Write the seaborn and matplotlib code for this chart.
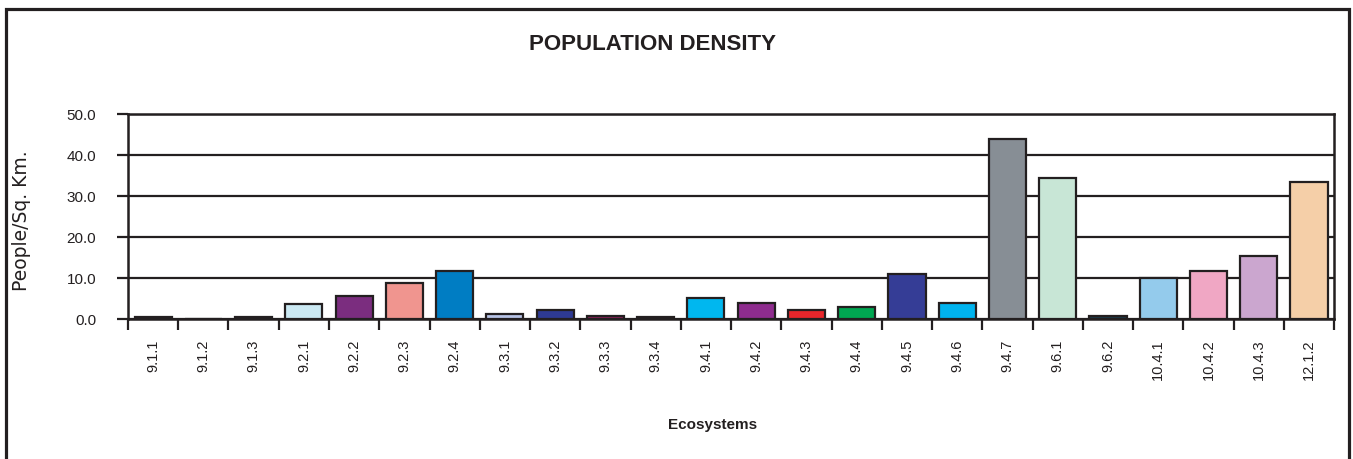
import matplotlib
matplotlib.use("Agg")
import matplotlib.pyplot as plt
from matplotlib.patches import Rectangle
from matplotlib.ticker import FixedLocator
import seaborn as sns
import pandas as pd
import numpy as np

# Ecosystem codes and their population densities
ecosystems = ["9.1.1", "9.1.2", "9.1.3", "9.2.1", "9.2.2", "9.2.3", "9.2.4",
              "9.3.1", "9.3.2", "9.3.3", "9.3.4", "9.4.1", "9.4.2", "9.4.3",
              "9.4.4", "9.4.5", "9.4.6", "9.4.7", "9.6.1", "9.6.2", "10.4.1",
              "10.4.2", "10.4.3", "12.1.2"]
density = [0.5, 0.0, 0.4, 3.6, 5.7, 8.9, 11.8,
           1.3, 2.2, 0.8, 0.4, 5.2, 4.0, 2.1,
           3.0, 11.0, 4.0, 43.9, 34.5, 0.8, 10.1,
           11.8, 15.4, 33.3]
bar_colors = ["#3a3a3a", "#3a3a3a", "#3a3a3a", "#CBE9F3", "#7B2D7F", "#F0958F", "#007DC3",
              "#B8C4E6", "#2E3A93", "#8B1F5A", "#3a3a3a", "#00B7EF", "#8E2C8E", "#E8262B",
              "#00A651", "#353D96", "#00B3EE", "#878E95", "#C8E6D6", "#1A3A4A", "#94CBEC",
              "#F0A7C4", "#CBA6CF", "#F5CFA8"]
y_ticks = [0, 10, 20, 30, 40, 50]

df = pd.DataFrame({"ecosystem": ecosystems, "density": density})

sns.set_theme(style="white")
plt.rcParams["font.family"] = ["Liberation Sans", "DejaVu Sans"]

fig = plt.figure(figsize=(13.53, 4.59), dpi=100)
ax = fig.add_axes([0.0946, 0.305, 0.8914, 0.4466])

sns.barplot(data=df, x="ecosystem", y="density", hue="ecosystem",
            palette=dict(zip(ecosystems, bar_colors)), legend=False,
            saturation=1, width=0.74, edgecolor="#231f20", linewidth=1.6,
            ax=ax, zorder=3)

ax.set_xlim(-0.5, len(ecosystems) - 0.5)
ax.set_ylim(0, 50)
ax.set_yticks(y_ticks)
ax.set_yticklabels([f"{v:.1f}" for v in y_ticks], fontsize=11, color="#231f20")
ax.yaxis.grid(True, color="#231f20", linewidth=1.6, zorder=1)
ax.xaxis.grid(False)

# Category boundary ticks below the baseline
ax.xaxis.set_minor_locator(FixedLocator(np.arange(-0.5, len(ecosystems), 1.0)))
ax.tick_params(axis="x", which="minor", bottom=True, length=8, width=1.6,
               color="#231f20", direction="out")
ax.tick_params(axis="x", which="major", bottom=False, length=0, pad=15,
               labelsize=10.5, labelcolor="#231f20", labelrotation=90)
ax.tick_params(axis="y", which="major", left=True, length=8, width=1.6,
               color="#231f20", direction="out", pad=15)

for side in ["left", "right", "top", "bottom"]:
    ax.spines[side].set_visible(True)
    ax.spines[side].set_color("#231f20")
    ax.spines[side].set_linewidth(1.8)
    ax.spines[side].set_zorder(4)

ax.set_xlabel("")
ax.set_ylabel("")

fig.text(0.016, 0.52, "People/Sq. Km.", rotation=90, ha="center", va="center",
         fontsize=13.5, family="DejaVu Sans", color="#231f20")
fig.text(0.482, 0.902, "POPULATION DENSITY", ha="center", va="center",
         fontsize=16, fontweight="bold", color="#231f20")
fig.text(0.527, 0.074, "Ecosystems", ha="center", va="center",
         fontsize=11, fontweight="bold", color="#231f20")

# Outer frame (open at the bottom edge)
fig.patches.append(Rectangle((6 / 1353, -0.05), (1349 - 6) / 1353, 1.05 - 9 / 459,
                             transform=fig.transFigure, fill=False,
                             edgecolor="#231f20", linewidth=2.3))

fig.savefig("out.png", dpi=100, facecolor="white")
